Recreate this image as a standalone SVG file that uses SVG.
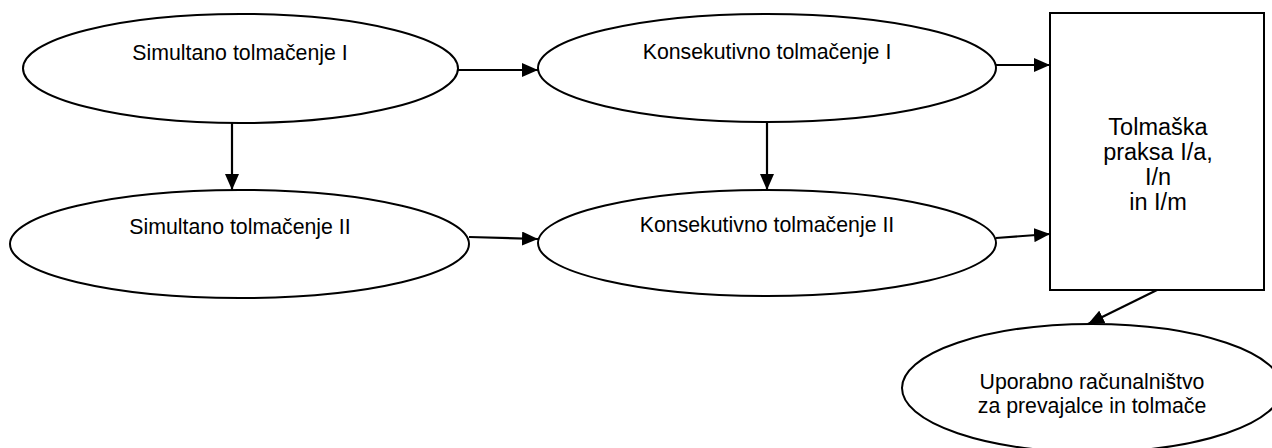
<svg xmlns="http://www.w3.org/2000/svg" width="1272" height="448" viewBox="0 0 1272 448">
<style>
.n{fill:#fff;stroke:#000;stroke-width:2}
.t{font-family:"Liberation Sans",Arial,sans-serif;font-size:21.3px;fill:#000;text-anchor:middle}
.tb{font-family:"Liberation Sans",Arial,sans-serif;font-size:23.5px;fill:#000;text-anchor:middle}
.c{stroke:#000;stroke-width:2.2;fill:none;marker-end:url(#ah)}
</style>
<defs>
<marker id="ah" markerUnits="userSpaceOnUse" markerWidth="16" markerHeight="14" refX="16" refY="7" orient="auto">
<path d="M0,0 L16,7 L0,14 z" fill="#000"/>
</marker>
</defs>
<rect width="1272" height="448" fill="#fff"/>
<g id="connectors">
<line class="c" x1="458" y1="70" x2="538" y2="70"/>
<line class="c" x1="996" y1="65" x2="1050" y2="65"/>
<line class="c" x1="232" y1="123" x2="232" y2="190"/>
<line class="c" x1="767" y1="122" x2="767" y2="190"/>
<line class="c" x1="469" y1="237" x2="538" y2="239"/>
<line class="c" x1="996" y1="238" x2="1050" y2="234"/>
<line class="c" x1="1157" y1="290" x2="1088" y2="324"/>
</g>
<g id="sim1">
<ellipse class="n" cx="240.5" cy="68.5" rx="217.5" ry="54.5"/>
<text class="t" x="240" y="60">Simultano tolmačenje I</text>
</g>
<g id="kons1">
<ellipse class="n" cx="767" cy="68" rx="229" ry="54"/>
<text class="t" x="767" y="59">Konsekutivno tolmačenje I</text>
</g>
<g id="sim2">
<ellipse class="n" cx="239.5" cy="244" rx="229.5" ry="54"/>
<text class="t" x="240" y="234">Simultano tolmačenje II</text>
</g>
<g id="kons2">
<ellipse class="n" cx="767" cy="243" rx="229" ry="53"/>
<text class="t" x="767" y="232">Konsekutivno tolmačenje II</text>
</g>
<g id="praksa">
<rect class="n" x="1050" y="13" width="214" height="277"/>
<text class="tb" x="1158" y="135">Tolmaška</text>
<text class="tb" x="1158" y="160">praksa I/a,</text>
<text class="tb" x="1158" y="185">I/n</text>
<text class="tb" x="1158" y="210">in I/m</text>
</g>
<g id="racunalnistvo">
<ellipse class="n" cx="1092" cy="388" rx="190" ry="64"/>
<text class="t" x="1092" y="389">Uporabno računalništvo</text>
<text class="t" x="1092" y="413">za prevajalce in tolmače</text>
</g>
</svg>
